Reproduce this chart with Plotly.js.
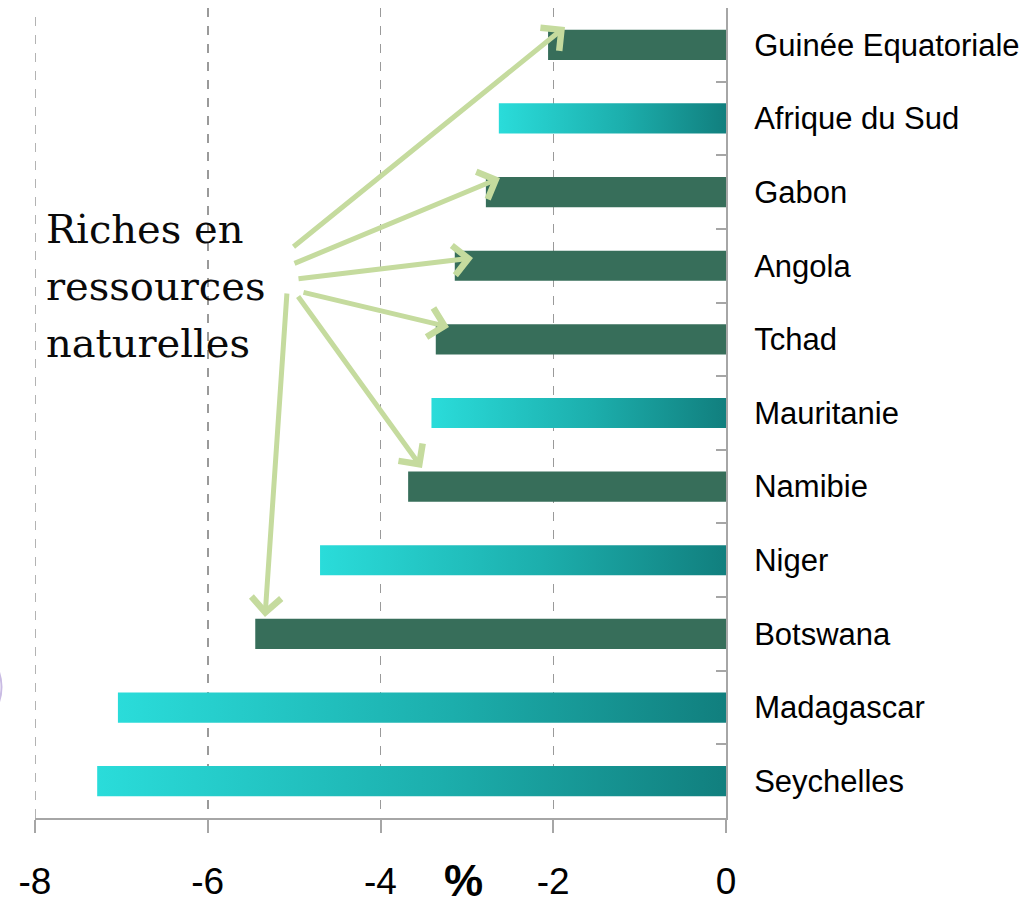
<!DOCTYPE html>
<html>
<head>
<meta charset="utf-8">
<script src="https://cdn.plot.ly/plotly-3.0.1.min.js"></script>
<style>html,body{margin:0;padding:0;background:#fff;}#chart{width:1033px;height:906px;}</style>
</head>
<body>
<div id="chart"></div>
<script>
// Data (top to bottom)
const categories = ["Guinée Equatoriale","Afrique du Sud","Gabon","Angola","Tchad","Mauritanie","Namibie","Niger","Botswana","Madagascar","Seychelles"];
const values = [-2.06,-2.63,-2.78,-3.14,-3.36,-3.41,-3.68,-4.70,-5.45,-7.04,-7.28];
const resourceRich = [true,false,true,true,true,false,true,false,true,false,false];
const xTickVals = [-8,-6,-4,-2,0];
const xTickText = ["-8","-6","-4","-2","0"];
const annotationLines = ["Riches en","ressources","naturelles"];

const richTrace = {
  type: "bar", orientation: "h",
  y: categories,
  x: values.map((v,i)=> resourceRich[i] ? v : null),
  marker: {color: "#376E5A"},
  hoverinfo: "x+y"
};
const otherTrace = {
  type: "bar", orientation: "h",
  y: categories,
  x: values.map((v,i)=> resourceRich[i] ? null : v),
  marker: {color: "#1FB5B3"},
  hoverinfo: "x+y"
};

const W = 691, H = 810, L = 35, T = 8;
const px = p => (p - L) / W;
const py = p => (T + H - p) / H;
const xd = p => (p - 726) / (W / 8);

// arrow heads/tails in pixels
const arrows = [
  [565,27,292,248],
  [500,178,293,264],
  [473,258,297,279],
  [449,327,302,292],
  [422,468,297,295],
  [265,617,287,292]
];

const annotations = [];
annotationLines.forEach((t,i)=>{
  annotations.push({
    text: t, xref: "paper", yref: "paper",
    x: px(44), y: py(229 + i*57), xanchor: "left", yanchor: "middle",
    showarrow: false, align: "left",
    font: {family: "DejaVu Serif, Georgia, serif", size: 40, color: "#0a0a0a"}
  });
});
arrows.forEach(a=>{
  annotations.push({
    text: "", xref: "x", yref: "paper",
    x: xd(a[0]), y: py(a[1]),
    ax: a[2]-a[0], ay: a[3]-a[1],
    showarrow: true, arrowhead: 4, arrowsize: 1.15, arrowwidth: 5,
    arrowcolor: "#C5DB9E", standoff: 0, startstandoff: 0
  });
});
annotations.push({
  text: "<b>%</b>", xref: "paper", yref: "paper",
  x: px(463), y: py(880), xanchor: "center", yanchor: "middle",
  showarrow: false,
  font: {family: "Liberation Sans, Arial, sans-serif", size: 44, color: "#000"}
});

const layout = {
  width: 1033, height: 906,
  margin: {l: L, r: 1033 - 726, t: T, b: 906 - 818},
  paper_bgcolor: "#fff", plot_bgcolor: "#fff",
  showlegend: false,
  barmode: "overlay",
  bargap: 0.59,
  font: {family: "Liberation Sans, Arial, sans-serif", color: "#000"},
  xaxis: {
    range: [-8, 0], fixedrange: true,
    tickvals: xTickVals, ticktext: xTickText,
    showgrid: true, gridcolor: "#9a9a9a", gridwidth: 1.5, griddash: "dash",
    zeroline: false,
    showline: true, linecolor: "#a6a6a6", linewidth: 2,
    ticks: "outside", ticklen: 13, tickwidth: 2, tickcolor: "#a6a6a6",
    tickfont: {size: 37, color: "#000"},
    ticklabelstandoff: 17
  },
  yaxis: {
    type: "category", categoryorder: "array", categoryarray: categories,
    autorange: "reversed",
    side: "right",
    showgrid: false, zeroline: false,
    showline: true, linecolor: "#a6a6a6", linewidth: 2,
    ticks: "inside", tickson: "boundaries", ticklen: 10, tickwidth: 2, tickcolor: "#a6a6a6",
    tickfont: {size: 31, color: "#000"},
    ticklabelstandoff: 20
  },
  annotations: annotations,
  shapes: [
    {
      type: "line", xref: "x", yref: "paper", layer: "below",
      x0: xTickVals[0], x1: xTickVals[0], y0: 0, y1: 1,
      line: {color: "#9a9a9a", width: 1.5, dash: "dash"}
    },
    {
      type: "path", xref: "paper", yref: "paper",
      path: `M ${px(-1)},${py(672)} Q ${px(4)},${py(687)} ${px(-1)},${py(702)}`,
      line: {color: "#C9BBE3", width: 2}
    }
  ]
};

Plotly.newPlot("chart", [richTrace, otherTrace], layout, {displayModeBar: false, staticPlot: true}).then(gd=>{
  const svg = gd.querySelector("svg.main-svg");
  const NS = "http://www.w3.org/2000/svg";
  const defs = document.createElementNS(NS, "defs");
  const grad = document.createElementNS(NS, "linearGradient");
  grad.setAttribute("id", "barGrad");
  grad.setAttribute("x1", "0"); grad.setAttribute("y1", "0");
  grad.setAttribute("x2", "1"); grad.setAttribute("y2", "0");
  [["0%","#2ADCDA"],["55%","#1CAEAC"],["100%","#117F7E"]].forEach(s=>{
    const st = document.createElementNS(NS, "stop");
    st.setAttribute("offset", s[0]); st.setAttribute("stop-color", s[1]);
    grad.appendChild(st);
  });
  defs.appendChild(grad);
  svg.insertBefore(defs, svg.firstChild);
  const traces = gd.querySelectorAll(".barlayer .trace");
  if (traces[1]) {
    traces[1].querySelectorAll("path").forEach(p=>{ p.style.fill = "url(#barGrad)"; });
  }
});
</script>
</body>
</html>
